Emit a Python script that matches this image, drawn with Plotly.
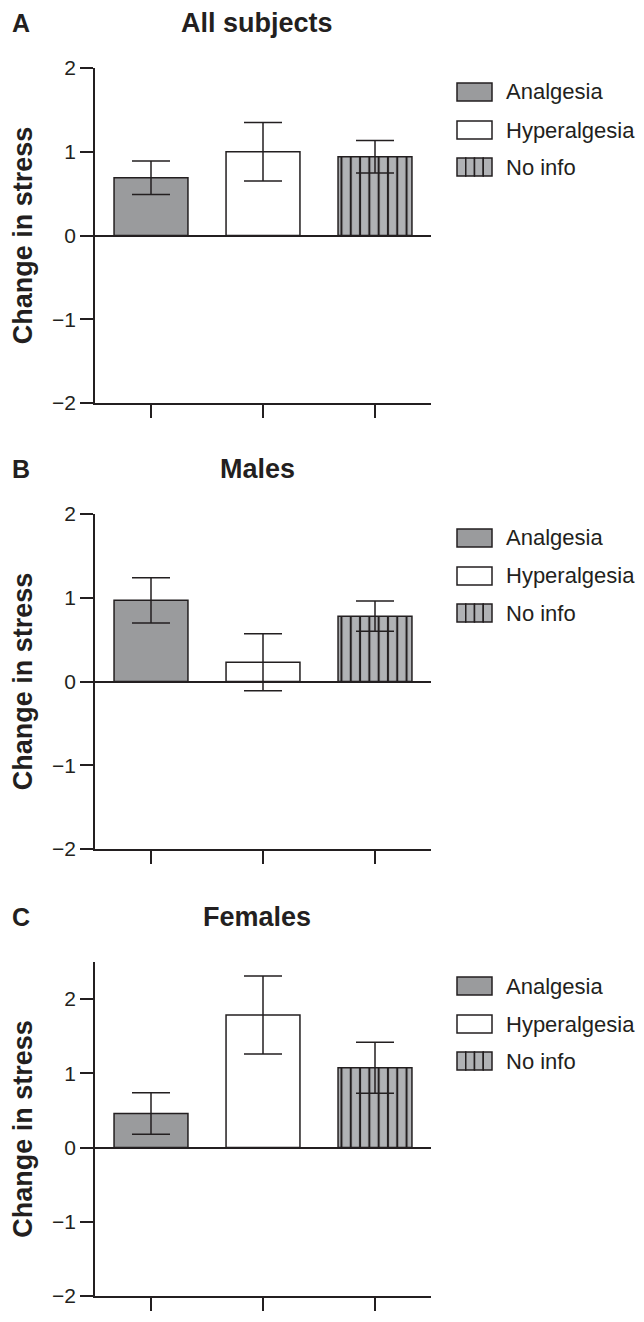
import plotly.graph_objects as go

# page is 644x1322 with an 8px body margin, so the figure itself is 628x1306
W, H, PAD = 628, 1306, 8

groups = ['Analgesia', 'Hyperalgesia', 'No info']
letters = ['A', 'B', 'C']
titles = ['All subjects', 'Males', 'Females']

# mean change in stress and error (half-length of error bar)
mean_all = [0.69, 1.00, 0.94]
err_all = [0.20, 0.35, 0.195]
mean_males = [0.97, 0.23, 0.78]
err_males = [0.27, 0.34, 0.18]
mean_females = [0.46, 1.785, 1.075]
err_females = [0.28, 0.525, 0.345]

y_ranges = [[-2, 2], [-2, 2], [-2, 2.5]]
y_ticks = [-2, -1, 0, 1, 2]

means = [mean_all, mean_males, mean_females]
errs = [err_all, err_males, err_females]

ink = '#231f20'
fills = ['#9a9b9d', '#ffffff', '#b0b2b5']
hatched = [False, False, True]
font = 'Liberation Sans, Arial, sans-serif'

# plot areas in page pixels (top/bottom of each panel)
panel_px = [(68, 403), (514, 849), (962, 1296)]
x0_px, x1_px = 95, 431


def px_x(p):
    return (p - PAD) / W


def px_y(p):
    return 1 - (p - PAD) / H


fig = go.Figure()
shapes, annotations = [], []

for i in range(3):
    sfx = '' if i == 0 else str(i + 1)
    for j, g in enumerate(groups):
        marker = dict(color=fills[j], line=dict(color=ink, width=1.5))
        if hatched[j]:
            marker['pattern'] = dict(shape='|', fgcolor=ink, fgopacity=1, size=9.3,
                                     solidity=0.22, fillmode='overlay')
        fig.add_trace(go.Bar(
            x=[j], y=[means[i][j]], width=0.66, name=g, showlegend=False,
            xaxis='x' + sfx, yaxis='y' + sfx, marker=marker,
            error_y=dict(type='data', array=[errs[i][j]], color=ink, thickness=1.5, width=19),
        ))
    top, bot = panel_px[i]
    fig.layout['xaxis' + sfx] = dict(
        domain=[px_x(x0_px), px_x(x1_px)], anchor='y' + sfx, range=[-0.5, 2.5],
        showline=True, linecolor=ink, linewidth=1.5, ticks='outside', ticklen=13,
        tickwidth=1.5, tickcolor=ink, tickvals=[0, 1, 2], showticklabels=False,
        showgrid=False, zeroline=False, fixedrange=True, automargin=False)
    fig.layout['yaxis' + sfx] = dict(
        domain=[px_y(bot), px_y(top)], anchor='x' + sfx, range=y_ranges[i],
        showline=True, linecolor=ink, linewidth=1.5, ticks='outside', ticklen=13,
        tickwidth=1.5, tickcolor=ink, tickvals=y_ticks, showgrid=False,
        zeroline=True, zerolinecolor=ink, zerolinewidth=1.5, automargin=False,
        tickfont=dict(family=font, size=21, color=ink),
        title=dict(text='Change in stress', standoff=12,
                   font=dict(family=font, size=27, color=ink, weight='bold')))

    # panel letter and title
    ty = top - 45
    annotations.append(dict(text=letters[i], x=px_x(21), y=px_y(ty), xref='paper', yref='paper',
                            showarrow=False, xanchor='center', yanchor='middle',
                            font=dict(family=font, size=25, color=ink, weight='bold')))
    annotations.append(dict(text=titles[i], x=px_x(257), y=px_y(ty), xref='paper', yref='paper',
                            showarrow=False, xanchor='center', yanchor='middle',
                            font=dict(family=font, size=27, color=ink, weight='bold')))

    # legend keys
    for j, g in enumerate(groups):
        cy = top + [24, 62, 99][j]
        bx0, bx1 = 457, 492
        cells = 4 if hatched[j] else 1
        cw = (bx1 - bx0) / cells
        for k in range(cells):
            shapes.append(dict(type='rect', xref='paper', yref='paper',
                               x0=px_x(bx0 + k * cw), x1=px_x(bx0 + (k + 1) * cw),
                               y0=px_y(cy + 9), y1=px_y(cy - 9),
                               fillcolor=fills[j], line=dict(color=ink, width=1.5)))
        annotations.append(dict(text=g, x=px_x(504), y=px_y(cy), xref='paper', yref='paper',
                                showarrow=False, xanchor='left', yanchor='middle',
                                font=dict(family=font, size=22, color=ink)))

fig.update_layout(width=W, height=H, margin=dict(l=0, r=0, t=0, b=0, autoexpand=False),
                  paper_bgcolor='white', plot_bgcolor='white', barmode='overlay',
                  shapes=shapes, annotations=annotations, font=dict(family=font, color=ink))

fig.write_html('out.html')
